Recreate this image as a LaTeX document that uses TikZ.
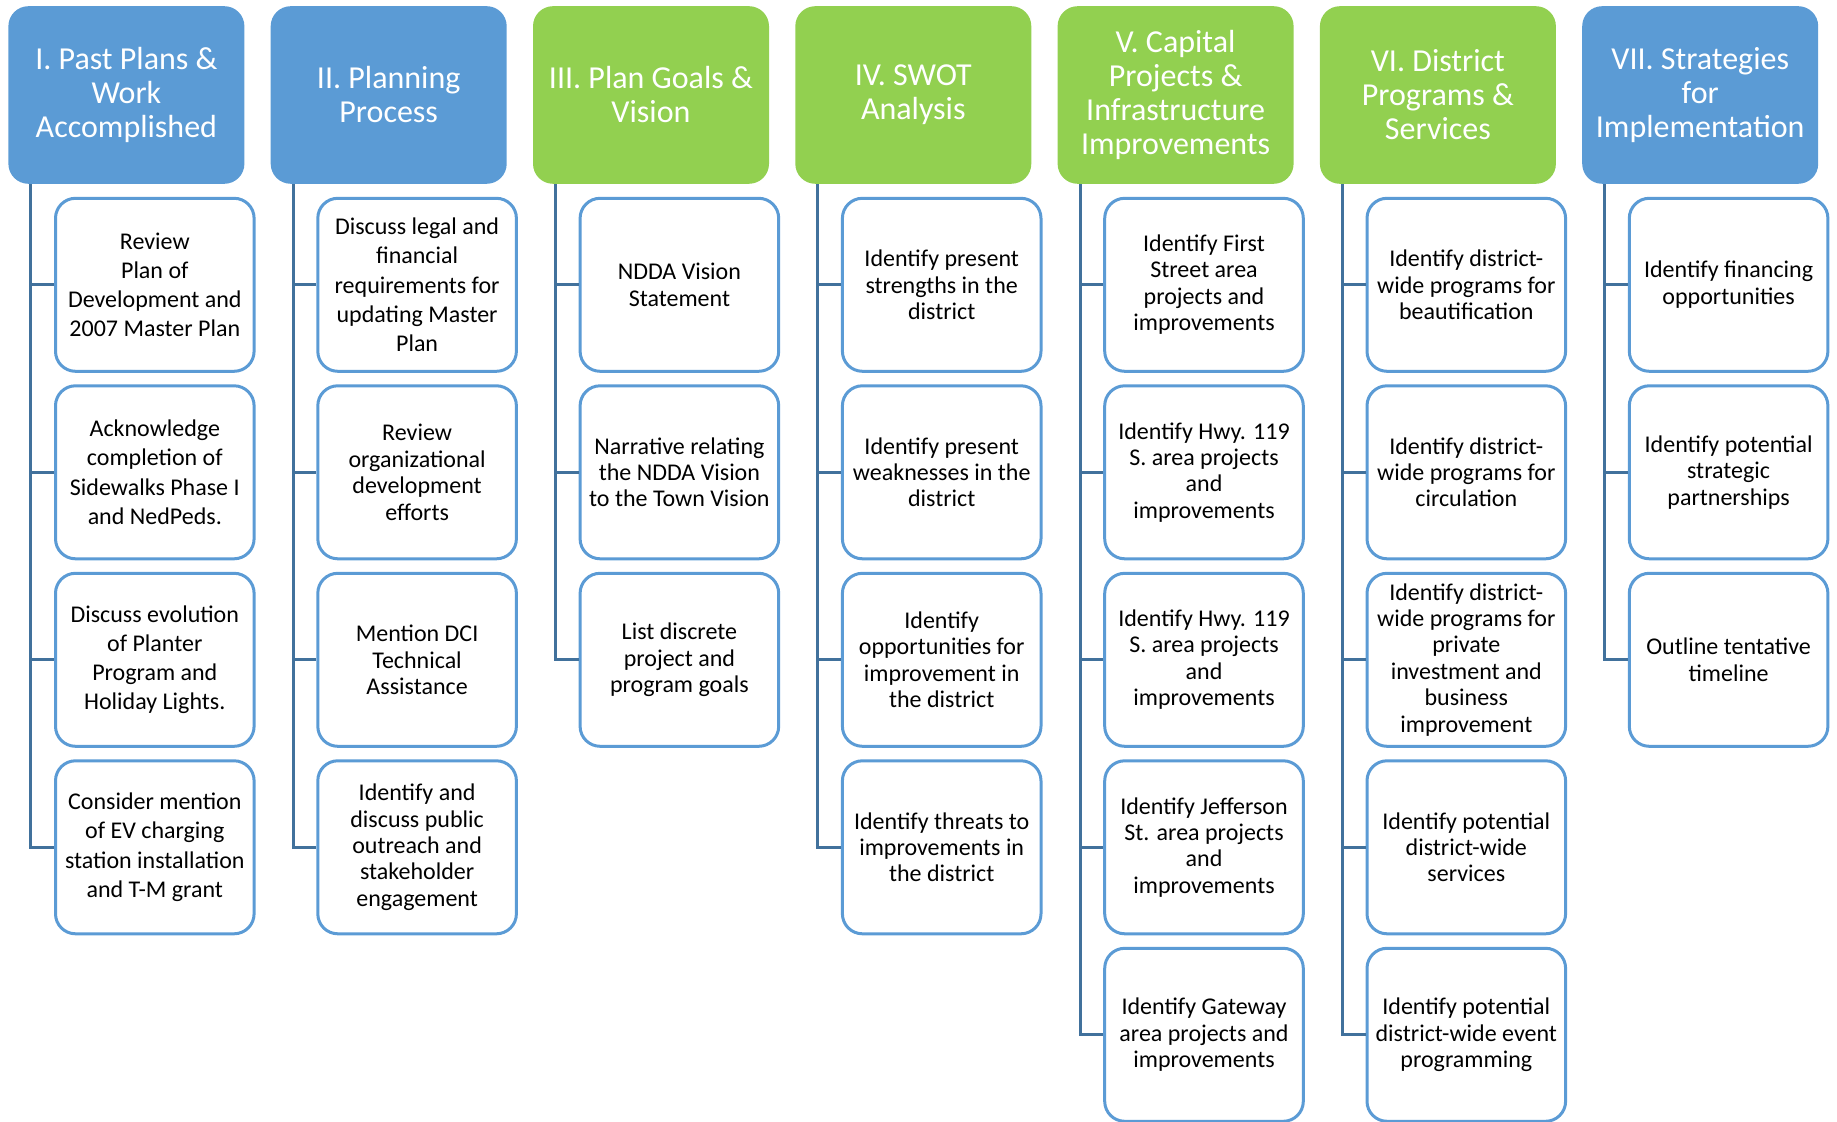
\documentclass[tikz,border=0pt]{standalone}
\usepackage{fontspec}
\setmainfont{Carlito}
\usepackage{tikz}
\usetikzlibrary{calc, positioning}
\definecolor{AccentBlue}{RGB}{91, 155, 213}
\definecolor{LeafGreen}{RGB}{146, 208, 80}
\definecolor{SteelBlue}{RGB}{65, 113, 156}

\tikzset{
    head/.style={rectangle, rounded corners=10pt, minimum width=118pt, minimum height=88.8pt,
        inner sep=2pt, align=center, text=white, font=\fontsize{16}{17}\selectfont},
    bluehead/.style={head, fill=AccentBlue},
    greenhead/.style={head, fill=LeafGreen},
    item/.style={rectangle, rounded corners=10pt, draw=AccentBlue, line width=1.5pt, fill=white,
        minimum width=99.3pt, minimum height=86.5pt, inner sep=2pt, align=center,
        font=\fontsize{12}{13.2}\selectfont},
    loose/.style={font=\fontsize{12}{14.6}\selectfont},
    trunk/.style={draw=SteelBlue, line width=1.5pt}
}

\begin{document}
\begin{tikzpicture}
    \useasboundingbox (0,0) rectangle (918.5pt,-561pt);

    % Encabezados
    \node[bluehead, anchor=north west] (past) at (4pt,-2.9pt) {I. Past Plans \&\\Work\\Accomplished};
    \node[bluehead, right=12.75pt of past] (planning) {II. Planning\\Process};
    \node[greenhead, right=12.75pt of planning] (goals) {III. Plan Goals \&\\Vision};
    \node[greenhead, right=12.75pt of goals] (swot) {IV. SWOT\\Analysis};
    \node[greenhead, right=12.75pt of swot] (capital) {V. Capital\\Projects \&\\Infrastructure\\Improvements};
    \node[greenhead, right=12.75pt of capital] (programs) {VI. District\\Programs \&\\Services};
    \node[bluehead, right=12.75pt of programs] (strategies) {VII. Strategies\\for\\Implementation};

    % I. Past Plans
    \node[item, loose, anchor=north west] (past1) at ($(past.south west)+(23pt,-6.3pt)$) {Review\\Plan of\\Development and\\2007 Master Plan};
    \node[item, loose, below=5.75pt of past1] (past2) {Acknowledge\\completion of\\Sidewalks Phase I\\and NedPeds.};
    \node[item, loose, below=5.75pt of past2] (past3) {Discuss evolution\\of Planter\\Program and\\Holiday Lights.};
    \node[item, loose, below=5.75pt of past3] (past4) {Consider mention\\of EV charging\\station installation\\and T-M grant};
    \coordinate (pastT) at ($(past.south west)+(11.4pt,0)$);
    \draw[trunk] (pastT) |- (past4.west) (pastT |- past1.west) -- (past1.west)
        (pastT |- past2.west) -- (past2.west) (pastT |- past3.west) -- (past3.west);

    % II. Planning Process
    \node[item, loose, anchor=north west] (planning1) at ($(planning.south west)+(23pt,-6.3pt)$) {Discuss legal and\\financial\\requirements for\\updating Master\\Plan};
    \node[item, below=5.75pt of planning1] (planning2) {Review\\organizational\\development\\efforts};
    \node[item, below=5.75pt of planning2] (planning3) {Mention DCI\\Technical\\Assistance};
    \node[item, below=5.75pt of planning3] (planning4) {Identify and\\discuss public\\outreach and\\stakeholder\\engagement};
    \coordinate (planningT) at ($(planning.south west)+(11.4pt,0)$);
    \draw[trunk] (planningT) |- (planning4.west) (planningT |- planning1.west) -- (planning1.west)
        (planningT |- planning2.west) -- (planning2.west) (planningT |- planning3.west) -- (planning3.west);

    % III. Plan Goals
    \node[item, anchor=north west] (goals1) at ($(goals.south west)+(23pt,-6.3pt)$) {NDDA Vision\\Statement};
    \node[item, below=5.75pt of goals1] (goals2) {Narrative relating\\the NDDA Vision\\to the Town Vision};
    \node[item, below=5.75pt of goals2] (goals3) {List discrete\\project and\\program goals};
    \coordinate (goalsT) at ($(goals.south west)+(11.4pt,0)$);
    \draw[trunk] (goalsT) |- (goals3.west) (goalsT |- goals1.west) -- (goals1.west)
        (goalsT |- goals2.west) -- (goals2.west);

    % IV. SWOT
    \node[item, anchor=north west] (swot1) at ($(swot.south west)+(23pt,-6.3pt)$) {Identify present\\strengths in the\\district};
    \node[item, below=5.75pt of swot1] (swot2) {Identify present\\weaknesses in the\\district};
    \node[item, below=5.75pt of swot2] (swot3) {Identify\\opportunities for\\improvement in\\the district};
    \node[item, below=5.75pt of swot3] (swot4) {Identify threats to\\improvements in\\the district};
    \coordinate (swotT) at ($(swot.south west)+(11.4pt,0)$);
    \draw[trunk] (swotT) |- (swot4.west) (swotT |- swot1.west) -- (swot1.west)
        (swotT |- swot2.west) -- (swot2.west) (swotT |- swot3.west) -- (swot3.west);

    % V. Capital Projects
    \node[item, anchor=north west] (capital1) at ($(capital.south west)+(23pt,-6.3pt)$) {Identify First\\Street area\\projects and\\improvements};
    \node[item, below=5.75pt of capital1] (capital2) {Identify Hwy. 119\\S. area projects\\and\\improvements};
    \node[item, below=5.75pt of capital2] (capital3) {Identify Hwy. 119\\S. area projects\\and\\improvements};
    \node[item, below=5.75pt of capital3] (capital4) {Identify Jefferson\\St. area projects\\and\\improvements};
    \node[item, below=5.75pt of capital4] (capital5) {Identify Gateway\\area projects and\\improvements};
    \coordinate (capitalT) at ($(capital.south west)+(11.4pt,0)$);
    \draw[trunk] (capitalT) |- (capital5.west) (capitalT |- capital1.west) -- (capital1.west)
        (capitalT |- capital2.west) -- (capital2.west) (capitalT |- capital3.west) -- (capital3.west)
        (capitalT |- capital4.west) -- (capital4.west);

    % VI. District Programs
    \node[item, anchor=north west] (programs1) at ($(programs.south west)+(23pt,-6.3pt)$) {Identify district-\\wide programs for\\beautification};
    \node[item, below=5.75pt of programs1] (programs2) {Identify district-\\wide programs for\\circulation};
    \node[item, below=5.75pt of programs2] (programs3) {Identify district-\\wide programs for\\private\\investment and\\business\\improvement};
    \node[item, below=5.75pt of programs3] (programs4) {Identify potential\\district-wide\\services};
    \node[item, below=5.75pt of programs4] (programs5) {Identify potential\\district-wide event\\programming};
    \coordinate (programsT) at ($(programs.south west)+(11.4pt,0)$);
    \draw[trunk] (programsT) |- (programs5.west) (programsT |- programs1.west) -- (programs1.west)
        (programsT |- programs2.west) -- (programs2.west) (programsT |- programs3.west) -- (programs3.west)
        (programsT |- programs4.west) -- (programs4.west);

    % VII. Strategies
    \node[item, anchor=north west] (strategies1) at ($(strategies.south west)+(23pt,-6.3pt)$) {Identify financing\\opportunities};
    \node[item, below=5.75pt of strategies1] (strategies2) {Identify potential\\strategic\\partnerships};
    \node[item, below=5.75pt of strategies2] (strategies3) {Outline tentative\\timeline};
    \coordinate (strategiesT) at ($(strategies.south west)+(11.4pt,0)$);
    \draw[trunk] (strategiesT) |- (strategies3.west) (strategiesT |- strategies1.west) -- (strategies1.west)
        (strategiesT |- strategies2.west) -- (strategies2.west);
\end{tikzpicture}
\end{document}
